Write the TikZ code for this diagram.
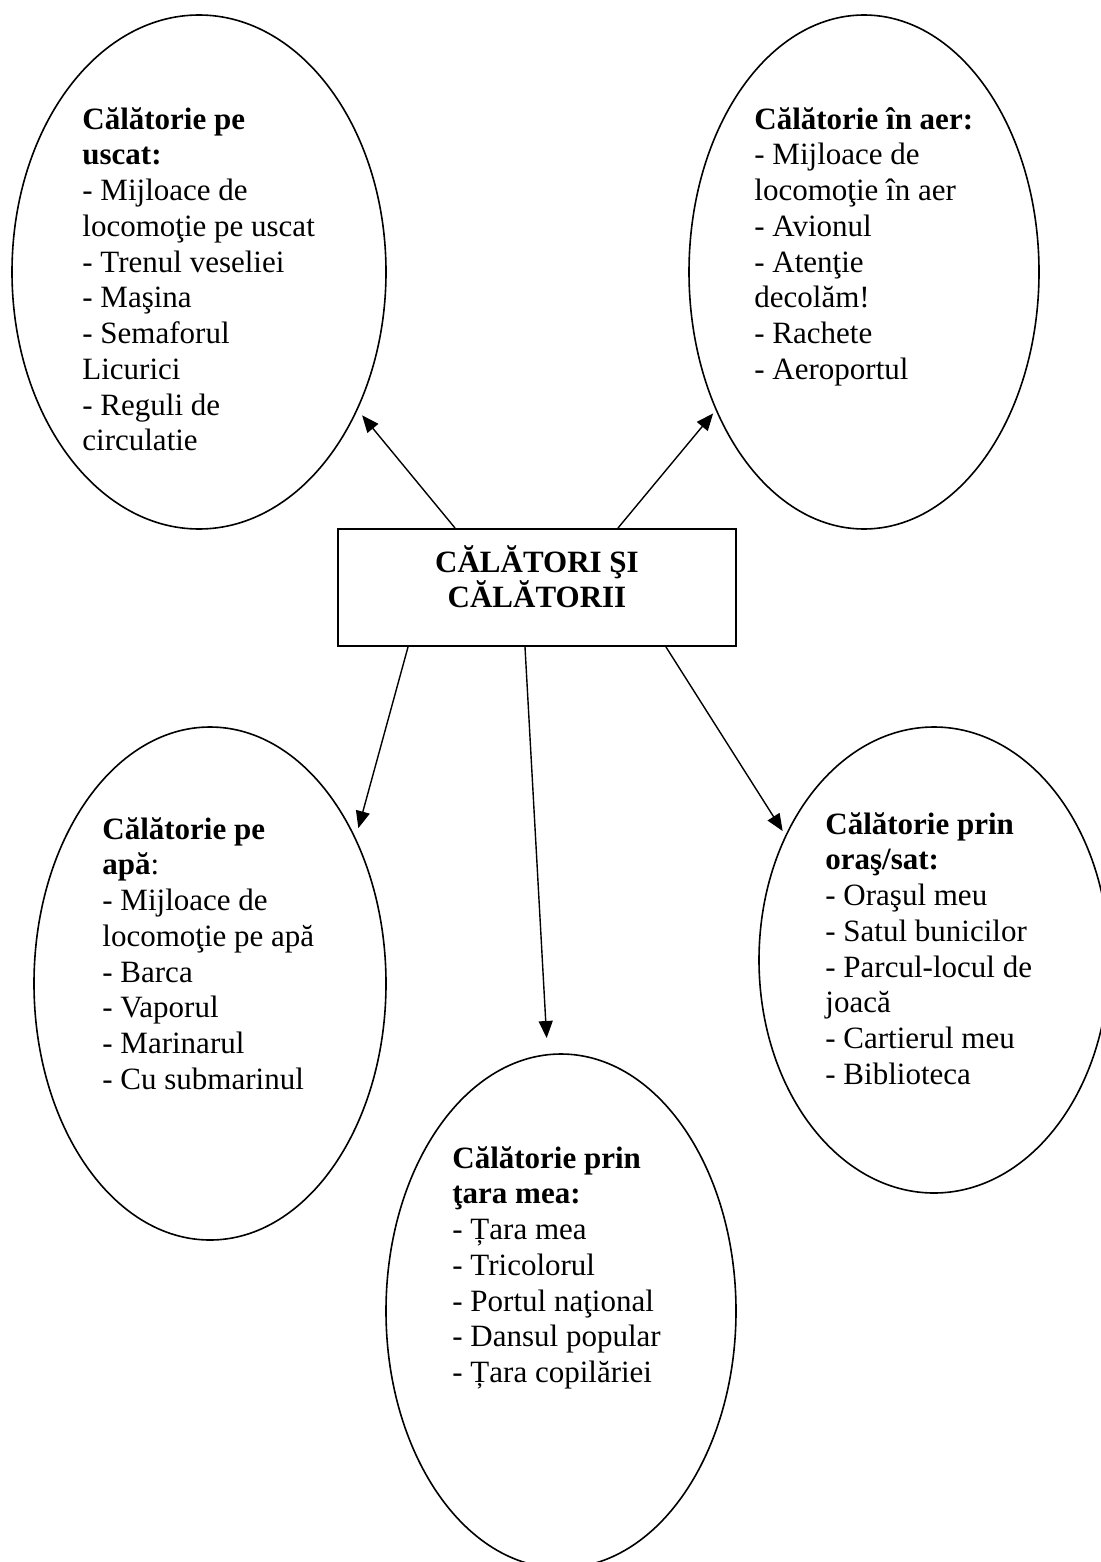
\documentclass[tikz,border=0pt]{standalone}
\usepackage{fontspec}
\setmainfont{Liberation Serif}
\usetikzlibrary{shapes.geometric, arrows.meta}

\tikzset{
    topic/.style={draw, ellipse, line width=0.8pt, inner sep=0pt},
    list/.style={anchor=north west, align=left, inner sep=0pt,
        font=\fontsize{15.5pt}{17.87pt}\selectfont},
    hubbox/.style={draw, rectangle, line width=1pt, inner sep=0pt,
        minimum width=199pt, minimum height=58.5pt},
    link/.style={-{Triangle[length=8.5pt,width=7pt]}, line width=0.7pt},
}

\begin{document}
\begin{tikzpicture}[x=0.5pt, y=-0.5pt]
    \useasboundingbox (0,0) rectangle (1101,1562);
    \node[hubbox](hub)                                               at (537,587.5) {};
    \node[align=center, anchor=north, inner sep=0pt,
          font=\bfseries\fontsize{15.5pt}{17.5pt}\selectfont](hubtext) at (537,545)
        {CĂLĂTORI ŞI\\CĂLĂTORII};
    \node[topic, minimum width=187pt, minimum height=257pt](land)     at (199,272) {};
    \node[topic, minimum width=175pt, minimum height=257pt](air)      at (864,272) {};
    \node[topic, minimum width=176pt, minimum height=256.5pt](water)  at (210,983.5) {};
    \node[topic, minimum width=175pt, minimum height=233pt](town)     at (934,960) {};
    \node[topic, minimum width=175pt, minimum height=257pt](country)  at (561,1311) {};
    % Texts
    \node[list](landtext) at (82,107) {\textbf{Călătorie pe}\\\textbf{uscat:}\\- Mijloace de\\locomoţie pe uscat\\- Trenul veseliei\\- Maşina\\- Semaforul\\Licurici\\- Reguli de\\circulatie};
    \node[list](airtext) at (754,107) {\textbf{Călătorie în aer:}\\- Mijloace de\\locomoţie în aer\\- Avionul\\- Atenţie\\decolăm!\\- Rachete\\- Aeroportul};
    \node[list](watertext) at (102,817) {\textbf{Călătorie pe}\\\textbf{apă}:\\- Mijloace de\\locomoţie pe apă\\- Barca\\- Vaporul\\- Marinarul\\- Cu submarinul};
    \node[list](towntext) at (825,812) {\textbf{Călătorie prin}\\\textbf{oraş/sat:}\\- Oraşul meu\\- Satul bunicilor\\- Parcul-locul de\\joacă\\- Cartierul meu\\- Biblioteca};
    \node[list](countrytext) at (452,1146) {\textbf{Călătorie prin}\\\textbf{ţara mea:}\\- Țara mea\\- Tricolorul\\- Portul naţional\\- Dansul popular\\- Țara copilăriei};
    % Arrows
    \draw[link, shorten >=3.5pt] ([xshift=-41pt]hub.north) -- (land.-41);
    \draw[link, shorten >=2pt]   ([xshift=40.5pt]hub.north) -- (air.-137);
    \draw[link, shorten >=5pt]   ([xshift=-64.5pt]hub.south) -- (water.45);
    \draw[link, shorten >=8pt]   ([xshift=-6pt]hub.south) -- (country.93);
    \draw[link, shorten >=2.5pt] ([xshift=64.5pt]hub.south) -- (town.140);
\end{tikzpicture}
\end{document}
